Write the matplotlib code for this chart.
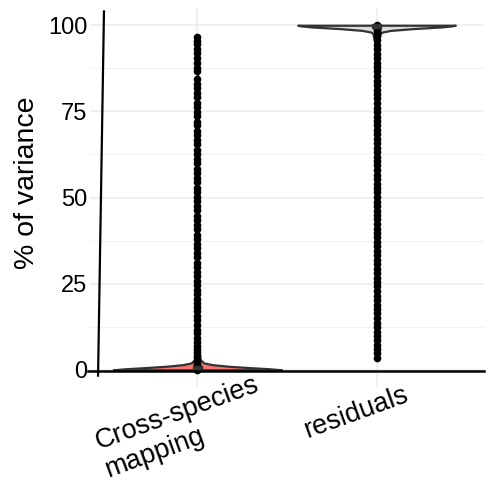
import matplotlib
matplotlib.use("Agg")
import matplotlib.pyplot as plt
from matplotlib.transforms import ScaledTranslation

plt.rcParams['font.family'] = ['Liberation Sans', 'DejaVu Sans']

categories = ["Cross-species\nmapping", "residuals"]
fills = ["#F8766D", "#dcdcdc"]

# per-gene % of variance explained, one list per component
cross_pts = [0.0, 0.1, 0.2, 0.3, 0.5, 0.7, 1.0, 1.4, 1.8, 2.3, 2.9, 3.6, 4.4, 5.1, 6.1, 7.0,
             8.2, 9.3, 10.7, 11.6, 13.0, 14.4, 15.5, 17.0, 18.1, 19.5, 20.6, 22.1, 23.2, 24.7,
             25.7, 27.2, 28.4, 29.9, 31.1, 32.6, 33.8, 35.3, 36.5, 38.1, 39.2, 40.8, 42.0, 43.5,
             44.7, 46.3, 47.4, 49.0, 50.2, 51.7, 52.9, 54.5, 55.6, 57.2, 58.4, 59.9, 61.1, 62.7,
             63.8, 65.4, 66.6, 68.1, 69.3, 70.9, 72.0, 73.6, 74.8, 76.3, 77.5, 79.1, 80.2, 81.8,
             82.9, 84.5, 86.6, 87.7, 89.1, 90.4, 91.9, 93.0, 94.5, 95.5, 96.5]
resid_pts = [3.5, 4.8, 6.0, 7.3, 8.6, 9.8, 11.1, 12.5, 13.7, 15.0, 16.4, 17.6, 18.9, 20.3,
             21.5, 22.8, 24.2, 25.4, 26.7, 28.1, 29.3, 30.6, 32.0, 33.2, 34.5, 35.9, 37.1, 38.4,
             39.8, 41.0, 42.3, 43.7, 44.9, 46.2, 47.6, 48.8, 50.1, 51.5, 52.7, 54.0, 55.4, 56.6,
             57.9, 59.3, 60.5, 61.8, 63.2, 64.4, 65.7, 67.1, 68.3, 69.6, 71.0, 72.2, 73.5, 74.9,
             76.1, 77.4, 78.8, 80.0, 81.3, 82.7, 83.9, 85.2, 86.6, 87.8, 89.1, 90.5, 91.7, 93.0,
             94.4, 95.6, 96.8, 97.9, 98.6, 99.0, 99.3, 99.5, 99.7, 99.8, 99.9, 100.0]
points = [cross_pts, resid_pts]

# violin outlines: y levels and half widths (in category units)
cross_vy = [0.0, 0.3, 0.6, 1.0, 1.5, 2.0, 3.0, 5.0, 10.0, 30.0, 60.0, 96.5]
cross_vw = [0.47, 0.40, 0.30, 0.18, 0.08, 0.035, 0.015, 0.008, 0.005, 0.003, 0.002, 0.0]
resid_vy = [3.5, 20.0, 50.0, 80.0, 95.0, 97.5, 98.0, 98.5, 99.0, 99.5, 99.8, 100.0]
resid_vw = [0.0, 0.002, 0.003, 0.005, 0.01, 0.02, 0.03, 0.08, 0.2, 0.36, 0.42, 0.44]
violins = [(cross_vy, cross_vw), (resid_vy, resid_vw)]

# boxplot quartiles
q1 = [0.0, 99.2]
q3 = [1.2, 100.4]

fig = plt.figure(figsize=(4.88, 4.82), dpi=100)
ax = fig.add_axes([90 / 488, 1 - 387 / 482, 394 / 488, 379 / 482])

for i, (vy, vw) in enumerate(violins):
    xc = i + 1
    left = [xc - w for w in vw]
    right = [xc + w for w in vw]
    ax.fill_betweenx(vy, left, right, facecolor=fills[i], edgecolor="#333333",
                     linewidth=1.6, zorder=2)

for i, pts in enumerate(points):
    ax.plot([i + 1] * len(pts), pts, 'o', color="black", markersize=4.5, zorder=3)

ax.bar([1, 2], [b - a for a, b in zip(q1, q3)], bottom=q1, width=0.05,
       color="#333333", edgecolor="#333333", zorder=4)

# axis lines
ax.plot([0.445, 0.478], [-1.7, 104.0], color="black", linewidth=1.6, clip_on=False, zorder=5)
ax.plot([0.39, 2.6], [-0.3, -0.3], color="black", linewidth=1.8, clip_on=False, zorder=5)

ax.set_xlim(0.4, 2.6)
ax.set_ylim(-5, 105)
ax.set_yticks([0, 25, 50, 75, 100])
ax.set_yticks([12.5, 37.5, 62.5, 87.5], minor=True)
ax.set_xticks([1, 2])
ax.set_xticklabels([])

# rotated category labels, nudged left of their tick
xlab_tr = ax.get_xaxis_transform() + ScaledTranslation(-0.25, -0.14, fig.dpi_scale_trans)
for i, lab in enumerate(categories):
    ax.text(i + 1, 0, lab, transform=xlab_tr, rotation=20, ha='center', va='top',
            rotation_mode='anchor', multialignment='left', fontsize=19.5)

ax.grid(True, which='major', color="#ebebeb", linewidth=1.1)
ax.grid(True, which='minor', axis='y', color="#f2f2f2", linewidth=0.8)
ax.set_axisbelow(True)
ax.tick_params(axis='x', length=0)
ax.tick_params(axis='y', length=0, pad=2, labelsize=17)
ax.tick_params(which='minor', length=0)
for s in ax.spines.values():
    s.set_visible(False)

ax.set_ylabel("% of variance", fontsize=20.5)
ax.yaxis.set_label_coords(-0.127, 0.538)

fig.savefig("out.png", dpi=100)
